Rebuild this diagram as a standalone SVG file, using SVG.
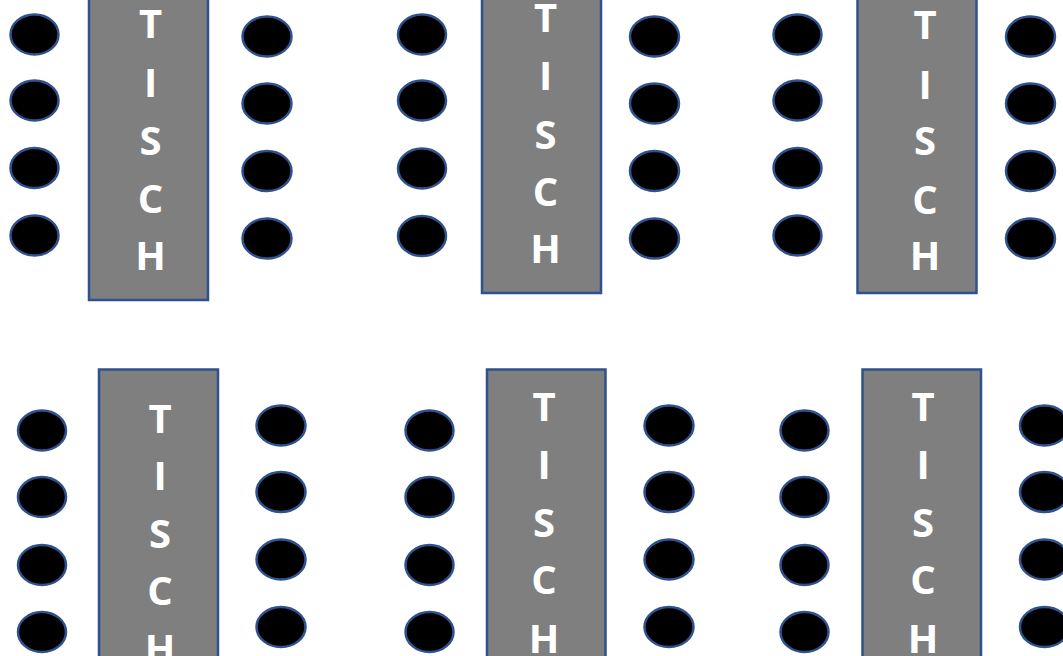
<svg xmlns="http://www.w3.org/2000/svg" width="1063" height="656" viewBox="0 0 1063 656">
<style>
.tbl{fill:#7F7F7F;stroke:#2F528F;stroke-width:2.5}
.ch{fill:#000;stroke:#2F528F;stroke-width:2.5}
.lbl{font-family:"Open Sans","Liberation Sans",sans-serif;font-weight:bold;font-size:40px;fill:#fff;text-anchor:middle}
</style>
<rect width="1063" height="656" fill="#fff"/>
<g id="table1">
<rect class="tbl" x="89" y="-10" width="119" height="310"/>
<text class="lbl"><tspan x="150.5" y="38">T</tspan><tspan x="150.5" y="97">I</tspan><tspan x="150.5" y="155">S</tspan><tspan x="150.5" y="213">C</tspan><tspan x="150.5" y="270">H</tspan></text>
<ellipse class="ch" cx="34.5" cy="34.5" rx="24" ry="20"/><ellipse class="ch" cx="34.5" cy="100.5" rx="24" ry="20"/><ellipse class="ch" cx="34.5" cy="168" rx="24" ry="20"/><ellipse class="ch" cx="34.5" cy="235.5" rx="24" ry="20"/>
<ellipse class="ch" cx="267" cy="36.5" rx="24.5" ry="20"/><ellipse class="ch" cx="267" cy="103.5" rx="24.5" ry="20"/><ellipse class="ch" cx="267" cy="171" rx="24.5" ry="20"/><ellipse class="ch" cx="267" cy="238.5" rx="24.5" ry="20"/>
</g>
<g id="table2">
<rect class="tbl" x="482" y="-10" width="119" height="303"/>
<text class="lbl"><tspan x="545.5" y="32">T</tspan><tspan x="545.5" y="90">I</tspan><tspan x="545.5" y="149">S</tspan><tspan x="545.5" y="206">C</tspan><tspan x="545.5" y="263">H</tspan></text>
<ellipse class="ch" cx="422" cy="34.5" rx="24" ry="20"/><ellipse class="ch" cx="422" cy="100.5" rx="24" ry="20"/><ellipse class="ch" cx="422" cy="168.5" rx="24" ry="20"/><ellipse class="ch" cx="422" cy="236" rx="24" ry="20"/>
<ellipse class="ch" cx="654.5" cy="36.5" rx="24.5" ry="20"/><ellipse class="ch" cx="654.5" cy="103.5" rx="24.5" ry="20"/><ellipse class="ch" cx="654.5" cy="171" rx="24.5" ry="20"/><ellipse class="ch" cx="654.5" cy="238.5" rx="24.5" ry="20"/>
</g>
<g id="table3">
<rect class="tbl" x="857.5" y="-10" width="119" height="303"/>
<text class="lbl"><tspan x="925" y="39">T</tspan><tspan x="925" y="99">I</tspan><tspan x="925" y="155">S</tspan><tspan x="925" y="214">C</tspan><tspan x="925" y="270">H</tspan></text>
<ellipse class="ch" cx="797.5" cy="34.5" rx="24" ry="20"/><ellipse class="ch" cx="797.5" cy="100.5" rx="24" ry="20"/><ellipse class="ch" cx="797.5" cy="168" rx="24" ry="20"/><ellipse class="ch" cx="797.5" cy="235.5" rx="24" ry="20"/>
<ellipse class="ch" cx="1030.5" cy="36.5" rx="24.5" ry="20"/><ellipse class="ch" cx="1030.5" cy="103.5" rx="24.5" ry="20"/><ellipse class="ch" cx="1030.5" cy="171" rx="24.5" ry="20"/><ellipse class="ch" cx="1030.5" cy="238.5" rx="24.5" ry="20"/>
</g>
<g id="table4">
<rect class="tbl" x="99" y="369.5" width="119" height="300"/>
<text class="lbl"><tspan x="160" y="432.5">T</tspan><tspan x="160" y="489.5">I</tspan><tspan x="160" y="548">S</tspan><tspan x="160" y="605">C</tspan><tspan x="160" y="663">H</tspan></text>
<ellipse class="ch" cx="42" cy="430.5" rx="24" ry="20"/><ellipse class="ch" cx="42" cy="497" rx="24" ry="20"/><ellipse class="ch" cx="42" cy="565" rx="24" ry="20"/><ellipse class="ch" cx="42" cy="632" rx="24" ry="20"/>
<ellipse class="ch" cx="281" cy="425.5" rx="24.5" ry="20"/><ellipse class="ch" cx="281" cy="492" rx="24.5" ry="20"/><ellipse class="ch" cx="281" cy="559.5" rx="24.5" ry="20"/><ellipse class="ch" cx="281" cy="627" rx="24.5" ry="20"/>
</g>
<g id="table5">
<rect class="tbl" x="487" y="369.5" width="118.5" height="300"/>
<text class="lbl"><tspan x="544" y="421">T</tspan><tspan x="544" y="478.5">I</tspan><tspan x="544" y="536.5">S</tspan><tspan x="544" y="594">C</tspan><tspan x="544" y="653">H</tspan></text>
<ellipse class="ch" cx="429.5" cy="430.5" rx="24" ry="20"/><ellipse class="ch" cx="429.5" cy="497" rx="24" ry="20"/><ellipse class="ch" cx="429.5" cy="565" rx="24" ry="20"/><ellipse class="ch" cx="429.5" cy="632" rx="24" ry="20"/>
<ellipse class="ch" cx="669" cy="425.5" rx="24.5" ry="20"/><ellipse class="ch" cx="669" cy="492" rx="24.5" ry="20"/><ellipse class="ch" cx="669" cy="559.5" rx="24.5" ry="20"/><ellipse class="ch" cx="669" cy="627" rx="24.5" ry="20"/>
</g>
<g id="table6">
<rect class="tbl" x="862.5" y="369.5" width="118.5" height="300"/>
<text class="lbl"><tspan x="923" y="421">T</tspan><tspan x="923" y="479">I</tspan><tspan x="923" y="536.5">S</tspan><tspan x="923" y="594">C</tspan><tspan x="923" y="653">H</tspan></text>
<ellipse class="ch" cx="804.5" cy="430.5" rx="24" ry="20"/><ellipse class="ch" cx="804.5" cy="497" rx="24" ry="20"/><ellipse class="ch" cx="804.5" cy="565" rx="24" ry="20"/><ellipse class="ch" cx="804.5" cy="632" rx="24" ry="20"/>
<ellipse class="ch" cx="1044.5" cy="425.5" rx="24.5" ry="20"/><ellipse class="ch" cx="1044.5" cy="492" rx="24.5" ry="20"/><ellipse class="ch" cx="1044.5" cy="559.5" rx="24.5" ry="20"/><ellipse class="ch" cx="1044.5" cy="627" rx="24.5" ry="20"/>
</g>
<g id="connectors"/>
</svg>
